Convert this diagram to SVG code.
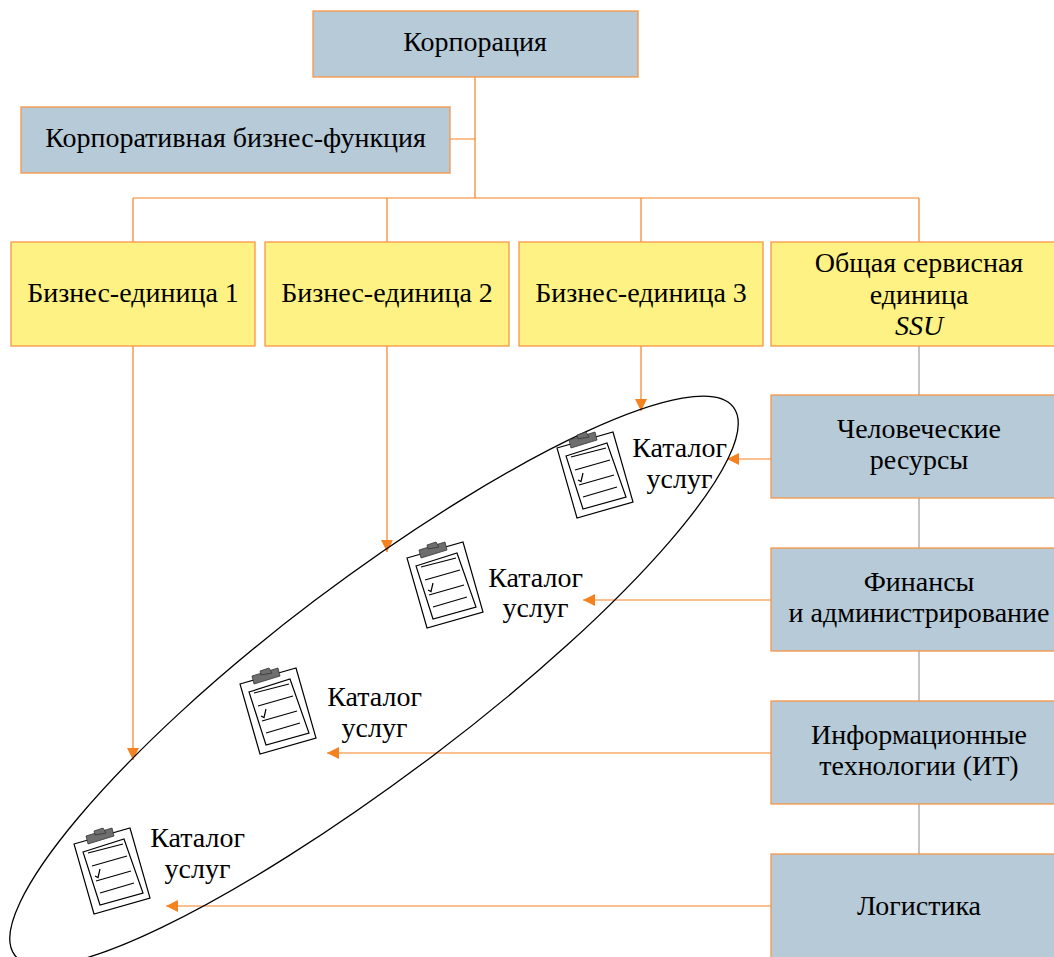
<svg xmlns="http://www.w3.org/2000/svg" xmlns:xlink="http://www.w3.org/1999/xlink" width="1054" height="957" viewBox="0 0 1054 957">
<style>
text{font-family:"Liberation Serif","Times New Roman",serif;font-size:28px;fill:#000;text-anchor:middle}
.blue{fill:#b6cad8;stroke:#f79646;stroke-width:1.3}
.yel{fill:#fff284;stroke:#f79646;stroke-width:1.3}
.o{fill:none;stroke:#f58220;stroke-width:1.2}
.g{fill:none;stroke:#b3b3b3;stroke-width:1.5}
.cb{fill:#fff;stroke:#000;stroke-width:1.2}
.cl{fill:none;stroke:#000;stroke-width:1.2}
.clip{fill:#6e6e6e;stroke:#333;stroke-width:.8}
</style>
<defs>
<marker id="arr" viewBox="0 0 12 12" markerUnits="userSpaceOnUse" markerWidth="12" markerHeight="12" refX="12" refY="6" orient="auto"><path d="M0 0L12 6L0 12Z" fill="#f58220"/></marker>
<g id="board">
<polygon class="cb" points="557,448 613,432 633,502 577,518"/>
<polygon class="cb" points="566,456 607,443 626,497 583,509"/>
<path class="cl" d="M571 457L606 448M575 470L610 460M579 485L614 475M583 497L617 487"/>
<path class="cl" stroke-width="1.5" d="M578 480L581 481.500L583 473"/>
<polygon class="clip" points="569,440 595,432 597,440 571,448"/>
<polygon class="clip" points="577,435 586,432 589,437 578,439"/>
</g>
</defs>
<g id="connectors">
<path class="o" d="M475 77V198M450 139H475M133 198H919M133 198V242M387 198V242M641 198V242M919 198V242"/>
<path class="g" d="M919 346V395M919 498V548M919 651V701M919 804V854"/>
<path class="o" marker-end="url(#arr)" d="M133 346V760"/>
<path class="o" marker-end="url(#arr)" d="M387 346V552"/>
<path class="o" marker-end="url(#arr)" d="M641 346V411"/>
<path class="o" marker-end="url(#arr)" d="M771 459H727"/>
<path class="o" marker-end="url(#arr)" d="M771 600H583"/>
<path class="o" marker-end="url(#arr)" d="M771 753H327"/>
<path class="o" marker-end="url(#arr)" d="M771 906H166"/>
</g>
<g id="catalog-ellipse"><path d="M733.400 407.200C765.800 450.200 631.200 606.300 432.700 755.900C234.200 905.500 47 998 14.600 955C-17.800 912 116.800 749.700 315.300 600.100C513.800 450.600 701 364.200 733.400 407.200Z" fill="none" stroke="#000" stroke-width="1.3"/></g>
<g id="corp"><rect class="blue" x="313" y="11" width="325" height="66"/><text x="475" y="51">Корпорация</text></g>
<g id="corp-func"><rect class="blue" x="21" y="107" width="429" height="66"/><text x="235.500" y="147">Корпоративная бизнес-функция</text></g>
<g id="bu1"><rect class="yel" x="11" y="242" width="244" height="104"/><text x="133" y="302">Бизнес-единица 1</text></g>
<g id="bu2"><rect class="yel" x="265" y="242" width="244" height="104"/><text x="387" y="302">Бизнес-единица 2</text></g>
<g id="bu3"><rect class="yel" x="519" y="242" width="244" height="104"/><text x="641" y="302">Бизнес-единица 3</text></g>
<g id="ssu"><rect class="yel" x="771" y="242" width="295" height="104"/><text x="919" y="272">Общая сервисная</text><text x="919" y="304">единица</text><text x="919" y="335" font-style="italic">SSU</text></g>
<g id="hr"><rect class="blue" x="771" y="395" width="295" height="103"/><text x="919" y="438">Человеческие</text><text x="919" y="469">ресурсы</text></g>
<g id="fin"><rect class="blue" x="771" y="548" width="295" height="103"/><text x="919" y="591">Финансы</text><text x="919" y="622">и администрирование</text></g>
<g id="it"><rect class="blue" x="771" y="701" width="295" height="103"/><text x="919" y="744">Информационные</text><text x="919" y="775">технологии (ИТ)</text></g>
<g id="log"><rect class="blue" x="771" y="854" width="295" height="104"/><text x="919" y="915">Логистика</text></g>
<g id="cat3"><use xlink:href="#board" href="#board"/><text x="679.500" y="457">Каталог</text><text x="679.500" y="488">услуг</text></g>
<g id="cat2"><use xlink:href="#board" href="#board" x="-150" y="110"/><text x="535.500" y="587">Каталог</text><text x="535.500" y="617">услуг</text></g>
<g id="cat1"><use xlink:href="#board" href="#board" x="-317" y="236"/><text x="374.500" y="706">Каталог</text><text x="374.500" y="737">услуг</text></g>
<g id="cat0"><use xlink:href="#board" href="#board" x="-483" y="396"/><text x="197.500" y="847">Каталог</text><text x="197.500" y="878">услуг</text></g>
</svg>
